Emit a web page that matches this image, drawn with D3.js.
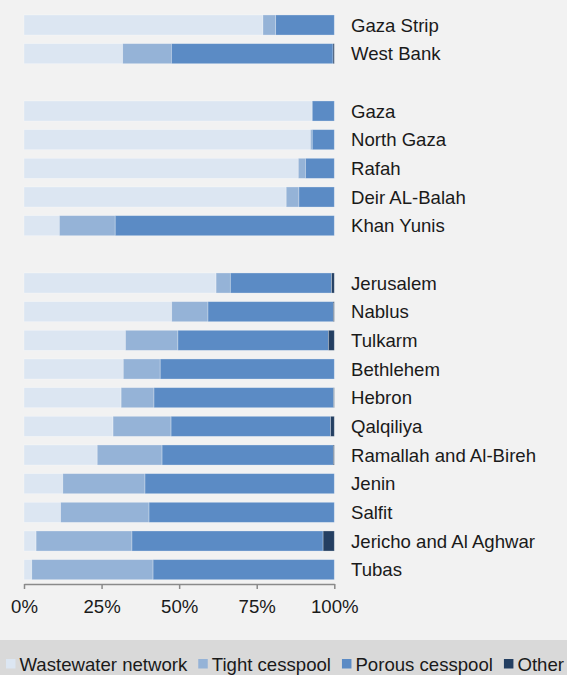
<!DOCTYPE html>
<html>
<head>
<meta charset="utf-8">
<script src="https://cdn.jsdelivr.net/npm/d3@7/dist/d3.min.js"></script>
<style>
  html, body { margin: 0; padding: 0; background: #f2f2f2; }
  svg { display: block; font-family: "Liberation Sans", Arial, sans-serif; }
</style>
</head>
<body>
<svg id="chart" width="567" height="675"></svg>
<script>
// ---- data ----
const categories = ["Gaza Strip", "West Bank", "", "Gaza", "North Gaza", "Rafah", "Deir AL-Balah", "Khan Yunis", " ",
  "Jerusalem", "Nablus", "Tulkarm", "Bethlehem", "Hebron", "Qalqiliya", "Ramallah and Al-Bireh", "Jenin", "Salfit",
  "Jericho and Al Aghwar", "Tubas"];
const seriesNames = ["Wastewater network", "Tight cesspool", "Porous cesspool", "Other"];
const wastewater = [77.0, 31.8, null, 92.9, 92.3, 88.4, 84.5, 11.4, null, 61.9, 47.6, 32.7, 32.0, 31.3, 28.7, 23.6, 12.5, 11.8, 3.9, 2.5];
const tight      = [4.1, 15.7, null, 0.0, 0.6, 2.3, 4.1, 18.0, null, 4.6, 11.7, 16.9, 11.9, 10.6, 18.7, 20.9, 26.5, 28.5, 30.9, 39.1];
const porous     = [18.9, 52.1, null, 7.1, 7.1, 9.3, 11.4, 70.6, null, 32.6, 40.4, 48.5, 56.1, 57.9, 51.4, 55.2, 61.0, 59.7, 61.6, 58.4];
const other      = [0.0, 0.4, null, 0.0, 0.0, 0.0, 0.0, 0.0, null, 0.9, 0.3, 1.9, 0.0, 0.2, 1.2, 0.3, 0.0, 0.0, 3.6, 0.0];
const tickValues = [0, 25, 50, 75, 100];
const tickLabels = ["0%", "25%", "50%", "75%", "100%"];
const colors = ["#dce6f2", "#95b3d7", "#5b8bc5", "#243f62"];

// ---- build table ----
const rows = categories.map((c, i) => ({
  cat: c, ww: wastewater[i], tight: tight[i], porous: porous[i], other: other[i]
}));
const keys = ["ww", "tight", "porous", "other"];
const dataRows = rows.filter(r => r.ww !== null);
const FS = 18.6;

const svg = d3.select("#chart");
svg.append("rect").attr("width", 567).attr("height", 675).attr("fill", "#f2f2f2");

const x = d3.scaleLinear().domain([0, 100]).range([24, 334.3]);
const y = d3.scaleBand().domain(categories).range([10.67, 584]).paddingInner(0.3).paddingOuter(0.15);

const stack = d3.stack().keys(keys);
const stacked = stack(dataRows);

const g = svg.append("g");
g.selectAll("g.series").data(stacked).join("g")
  .attr("class", "series")
  .attr("fill", (d, i) => colors[i])
  .selectAll("rect").data(d => d).join("rect")
  .attr("x", d => x(d[0]))
  .attr("y", d => y(d.data.cat))
  .attr("width", d => Math.max(0, x(d[1]) - x(d[0])))
  .attr("height", y.bandwidth())
  .attr("stroke", "rgba(255,255,255,0.35)")
  .attr("stroke-width", 0.8);

// category labels
svg.append("g").selectAll("text").data(dataRows).join("text")
  .attr("x", 351)
  .attr("y", d => y(d.cat) + y.bandwidth() / 2)
  .attr("dy", "0.35em")
  .attr("font-size", FS)
  .attr("fill", "#1a1a1a")
  .text(d => d.cat);

// x axis
const axis = d3.axisBottom(x)
  .tickValues(tickValues)
  .tickFormat((d, i) => tickLabels[i])
  .tickSize(5)
  .tickSizeOuter(0)
  .tickPadding(11);
const ax = svg.append("g").attr("transform", "translate(0,584)").call(axis);
ax.select(".domain").attr("stroke", "#8a8a8a").attr("stroke-width", 1.5);
ax.selectAll(".tick line").attr("stroke", "#8a8a8a").attr("stroke-width", 1.5);
ax.selectAll(".tick text").attr("font-size", FS).attr("fill", "#1a1a1a")
  .attr("font-family", "'Liberation Sans', Arial, sans-serif");

// legend
svg.append("rect").attr("x", 0).attr("y", 640).attr("width", 567).attr("height", 35).attr("fill", "#d9d9d9");
const lg = svg.append("g");
let lx = 6;
seriesNames.forEach((name, i) => {
  lg.append("rect").attr("x", lx).attr("y", 659).attr("width", 9.5).attr("height", 9.5).attr("fill", colors[i]);
  const t = lg.append("text").attr("x", lx + 13.5).attr("y", 664).attr("dy", "0.35em")
    .attr("font-size", FS).attr("fill", "#1a1a1a").text(name);
  const w = t.node().getComputedTextLength();
  lx = lx + 13.5 + w + 11;
});
</script>
</body>
</html>
